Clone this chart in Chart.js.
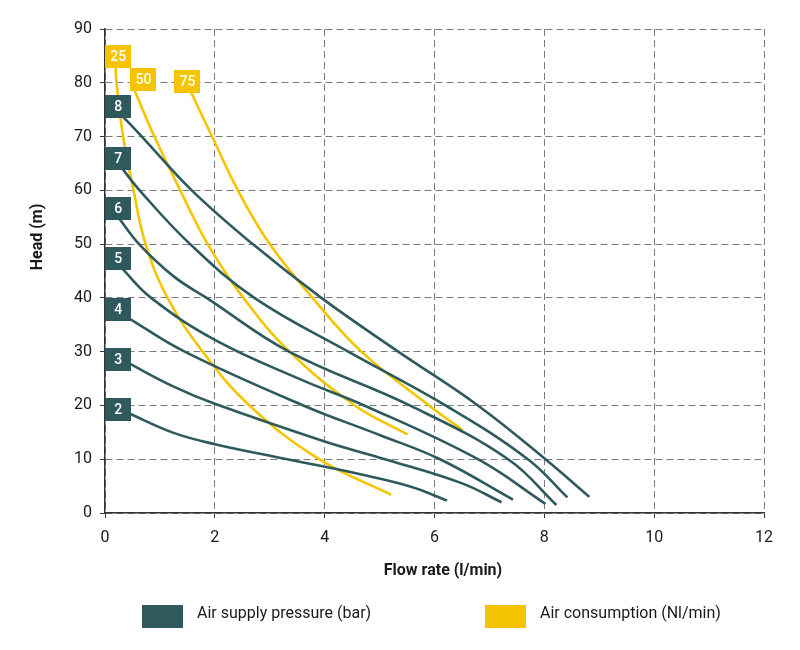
<!DOCTYPE html>
<html>
<head>
<meta charset="utf-8">
<title>Pump performance curves</title>
<script src="https://cdn.jsdelivr.net/npm/chart.js@4.4.1/dist/chart.umd.min.js"></script>
<style>
  html, body { margin: 0; padding: 0; background: #fff; }
  #wrap { width: 800px; height: 650px; }
</style>
</head>
<body>
<div id="wrap"><canvas id="chart"></canvas></div>
<script>
// Air supply pressure curves (bar): flow rate (l/min) vs head (m)
const p2Flow = [0.42, 1.25, 2.0, 3.32, 4.65, 5.57, 6.23];
const p2Head = [18.6, 14.9, 12.8, 10.0, 7.2, 4.9, 2.3];
const p3Flow = [0.42, 1.25, 2.0, 4.0, 5.1, 6.48, 7.22];
const p3Head = [27.9, 23.5, 20.3, 13.3, 10.0, 5.6, 2.0];
const p4Flow = [0.42, 1.45, 3.61, 5.0, 6.1, 7.43];
const p4Head = [36.3, 30.0, 20.0, 14.5, 10.0, 2.5];
const p5Flow = [0.28, 0.84, 2.0, 3.57, 4.72, 6.79, 8.02];
const p5Head = [45.8, 40.0, 32.2, 24.8, 20.0, 10.0, 1.7];
const p6Flow = [0.22, 0.62, 1.25, 1.85, 3.35, 5.55, 7.34, 8.22];
const p6Head = [55.3, 50.0, 44.0, 40.0, 30.0, 20.0, 10.0, 1.5];
const p7Flow = [0.28, 0.63, 1.55, 2.72, 4.43, 6.2, 7.70, 8.42];
const p7Head = [64.5, 60.0, 50.0, 40.0, 30.0, 20.0, 10.0, 2.9];
const p8Flow = [0.30, 0.67, 1.58, 2.69, 3.94, 5.34, 6.79, 8.02, 8.82];
const p8Head = [74.0, 70.0, 60.0, 50.0, 40.0, 30.0, 20.0, 10.0, 3.0];

// Air consumption curves (Nl/min)
const c25Flow = [0.19, 0.21, 0.33, 0.52, 0.74, 1.14, 1.78, 2.63, 3.9, 5.21];
const c25Head = [83.5, 80.0, 70.0, 60.0, 50.0, 40.0, 30.0, 20.0, 10.0, 3.4];
const c50Flow = [0.54, 0.90, 1.37, 1.87, 2.52, 3.36, 4.55, 5.51];
const c50Head = [78.5, 70.0, 60.0, 50.0, 40.0, 30.0, 20.0, 14.6];
const c75Flow = [1.56, 1.95, 2.42, 3.0, 3.78, 4.67, 5.90, 6.51];
const c75Head = [78.4, 70.0, 60.0, 50.0, 40.0, 30.0, 20.0, 15.4];

// curve tags (where the little boxes sit, in chart units)
const pressureNames = ['2', '3', '4', '5', '6', '7', '8'];
const pressureTagFlow = [0.24, 0.24, 0.24, 0.24, 0.24, 0.24, 0.24];
const pressureTagHead = [19.2, 28.5, 37.8, 47.3, 56.7, 66.0, 75.5];
const consumptionNames = ['25', '50', '75'];
const consumptionTagFlow = [0.24, 0.70, 1.50];
const consumptionTagHead = [84.8, 80.6, 80.2];

// axis ticks
const flowTicks = [0, 2, 4, 6, 8, 10, 12];
const headTicks = [0, 10, 20, 30, 40, 50, 60, 70, 80, 90];

const DARK = '#2e5a5e';
const YELLOW = '#f5c400';
const TEXT = '#1a1a1a';

function toPoints(xs, ys) {
    return xs.map((x, i) => ({ x: x, y: ys[i] }));
}

function curve(xs, ys, color) {
    return {
        data: toPoints(xs, ys),
        showLine: true,
        borderColor: color,
        backgroundColor: color,
        borderWidth: 2.6,
        pointRadius: 0,
        tension: 0.4,
        fill: false
    };
}

const pressureSets = [
    [p2Flow, p2Head], [p3Flow, p3Head], [p4Flow, p4Head], [p5Flow, p5Head],
    [p6Flow, p6Head], [p7Flow, p7Head], [p8Flow, p8Head]
];
const consumptionSets = [[c25Flow, c25Head], [c50Flow, c50Head], [c75Flow, c75Head]];

const datasets = pressureSets.map(s => curve(s[0], s[1], DARK))
    .concat(consumptionSets.map(s => curve(s[0], s[1], YELLOW)));

// boxes with the pressure / consumption value at the start of each curve
const curveTags = {
    id: 'curveTags',
    afterDatasetsDraw(chart) {
        const { ctx, scales: { x, y } } = chart;
        ctx.save();
        ctx.font = '500 14px Roboto';
        ctx.textAlign = 'center';
        ctx.textBaseline = 'middle';
        const tag = (text, fx, hy, color) => {
            const px = x.getPixelForValue(fx);
            const py = y.getPixelForValue(hy);
            ctx.fillStyle = color;
            ctx.fillRect(Math.round(px - 13), Math.round(py - 11.5), 26, 23);
            ctx.fillStyle = '#fff';
            ctx.fillText(text, px, py + 1);
        };
        pressureNames.forEach((n, i) => tag(n, pressureTagFlow[i], pressureTagHead[i], DARK));
        consumptionNames.forEach((n, i) => tag(n, consumptionTagFlow[i], consumptionTagHead[i], YELLOW));
        ctx.restore();
    }
};

// axis titles and the two-entry legend below the plot
const captions = {
    id: 'captions',
    afterDraw(chart) {
        const { ctx } = chart;
        ctx.save();
        ctx.fillStyle = TEXT;
        ctx.font = 'bold 16px Roboto';
        ctx.textAlign = 'center';
        ctx.textBaseline = 'middle';
        ctx.fillText('Flow rate (l/min)', 443, 571);

        ctx.save();
        ctx.translate(38, 237);
        ctx.rotate(-Math.PI / 2);
        ctx.fillText('Head (m)', 0, 0);
        ctx.restore();

        const items = [
            { text: 'Air supply pressure (bar)', color: DARK, x: 142 },
            { text: 'Air consumption (Nl/min)', color: YELLOW, x: 485 }
        ];
        ctx.font = '16px Roboto';
        ctx.textAlign = 'left';
        items.forEach(it => {
            ctx.fillStyle = it.color;
            ctx.fillRect(it.x, 605, 41, 23);
            ctx.fillStyle = TEXT;
            ctx.fillText(it.text, it.x + 55, 614);
        });
        ctx.restore();
    }
};

const gridOpts = { color: '#7c7c7c', lineWidth: 1, tickLength: 5, tickColor: '#333' };
const borderOpts = { color: '#333', width: 1.5, dash: [7, 4] };

new Chart(document.getElementById('chart'), {
    type: 'scatter',
    data: { datasets: datasets },
    options: {
        responsive: true,
        maintainAspectRatio: false,
        animation: false,
        layout: { padding: { top: 29, right: 36, bottom: 65, left: 0 } },
        plugins: {
            legend: { display: false },
            tooltip: { enabled: false }
        },
        scales: {
            x: {
                type: 'linear',
                min: 0,
                max: 12,
                afterBuildTicks: s => { s.ticks = flowTicks.map(v => ({ value: v })); },
                afterFit: s => { s.height = 72; },
                grid: gridOpts,
                border: borderOpts,
                ticks: { color: TEXT, font: { family: 'Roboto', size: 16 }, padding: 10 }
            },
            y: {
                type: 'linear',
                min: 0,
                max: 90,
                afterBuildTicks: s => { s.ticks = headTicks.map(v => ({ value: v })); },
                afterFit: s => { s.width = 105; },
                grid: gridOpts,
                border: borderOpts,
                ticks: { color: TEXT, font: { family: 'Roboto', size: 16 }, padding: 8 }
            }
        }
    },
    plugins: [curveTags, captions]
});
</script>
</body>
</html>
